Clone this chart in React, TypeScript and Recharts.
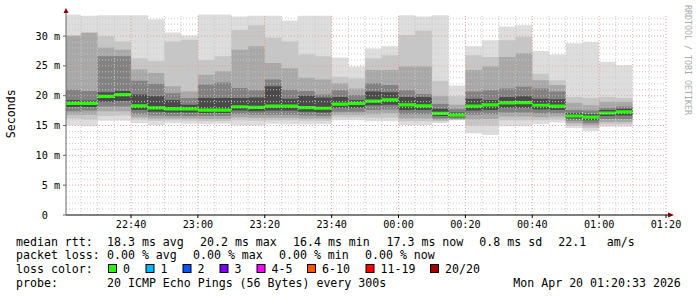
import React from 'react';
import { ComposedChart, Area, XAxis, YAxis, ReferenceLine } from 'recharts';

// 5-minute rrd steps (start time of each step)
const SLOTS = [
  '22:20', '22:25', '22:30', '22:35', '22:40', '22:45', '22:50', '22:55',
  '23:00', '23:05', '23:10', '23:15', '23:20', '23:25', '23:30', '23:35',
  '23:40', '23:45', '23:50', '23:55', '00:00', '00:05', '00:10', '00:15',
  '00:20', '00:25', '00:30', '00:35', '00:40', '00:45', '00:50', '00:55',
  '01:00', '01:05',
];

// median rtt (ms)
const MEDIAN = [18.7, 18.7, 19.9, 20.2, 18.3, 17.95, 17.8, 17.8, 17.6, 17.6, 18.15, 18.05, 18.25, 18.25, 18.0, 17.9, 18.6, 18.7, 19.1, 19.3, 18.45, 18.3, 17.05, 16.75, 18.25, 18.45, 18.8, 18.85, 18.4, 18.25, 16.6, 16.4, 17.1, 17.3];

// smoke: sorted ping bands, outermost first (ms)
const MAX = [33.6, 33.4, 33.5, 33.5, 33.5, 32.8, 30.6, 30.1, 33.6, 33.6, 33.3, 33.4, 33.4, 32.6, 33.4, 33.4, 26.4, 24.9, 27.9, 28.3, 33.5, 33.3, 33.5, 21.7, 28.3, 29.3, 31.6, 31.8, 27.5, 26.9, 28.8, 29.0, 25.7, 25.1];
const HI2 = [30.2, 30.7, 30.0, 29.1, 26.3, 25.8, 29.1, 29.4, 26.0, 26.6, 31.0, 31.8, 29.7, 29.1, 26.9, 26.6, 23.2, 22.9, 26.3, 26.8, 30.2, 30.9, 22.5, 19.9, 26.8, 26.5, 29.3, 29.9, 23.7, 22.6, 19.8, 19.6, 19.8, 19.6];
const HI3 = [30.0, 30.5, 28.1, 27.7, 24.4, 23.8, 21.6, 20.7, 23.5, 24.1, 27.7, 28.3, 25.5, 24.6, 23.0, 22.7, 22.1, 21.2, 24.3, 24.3, 24.9, 24.9, 19.9, 18.5, 24.3, 24.9, 26.5, 27.1, 22.6, 21.8, 18.8, 18.4, 19.0, 19.0];
const HI4 = [21.0, 20.8, 26.6, 26.6, 22.5, 22.0, 20.4, 19.6, 21.9, 22.2, 21.3, 20.9, 22.7, 21.0, 20.8, 20.2, 20.9, 20.1, 22.1, 21.8, 20.9, 20.3, 18.6, 17.8, 20.7, 20.9, 21.2, 21.5, 21.2, 20.7, 17.6, 17.5, 18.0, 18.2];
const HI5 = [19.3, 19.2, 20.6, 20.8, 20.2, 19.9, 19.3, 18.5, 19.6, 19.6, 19.6, 19.7, 21.6, 19.5, 20.0, 19.7, 19.8, 19.3, 20.7, 20.6, 19.8, 19.8, 17.8, 17.2, 19.5, 19.3, 19.8, 19.9, 19.5, 19.4, 17.1, 16.9, 17.6, 17.8];
const LO5 = [18.1, 18.1, 19.0, 19.1, 17.6, 17.3, 17.2, 17.2, 17.1, 17.1, 17.5, 17.4, 17.5, 17.5, 17.3, 17.2, 18.0, 18.0, 18.4, 18.5, 17.6, 17.6, 16.6, 16.4, 17.5, 17.6, 18.0, 18.0, 17.7, 17.6, 16.2, 15.9, 16.6, 16.7];
const LO4 = [17.4, 17.5, 18.2, 18.2, 16.9, 16.7, 16.6, 16.6, 16.6, 16.6, 16.9, 16.8, 16.8, 16.8, 16.7, 16.6, 17.3, 17.3, 17.6, 17.7, 16.9, 16.9, 16.2, 16.2, 16.8, 16.9, 17.2, 17.2, 17.0, 17.0, 15.8, 15.4, 16.1, 16.1];
const LO3 = [16.8, 16.8, 17.4, 17.4, 16.4, 16.2, 16.2, 16.2, 16.1, 16.1, 16.4, 16.3, 16.3, 16.3, 16.2, 16.2, 16.8, 16.8, 16.9, 17.0, 16.2, 16.2, 15.9, 16.0, 16.0, 16.1, 16.5, 16.5, 16.4, 16.5, 15.4, 15.0, 15.6, 15.6];
const LO2 = [16.2, 16.0, 16.6, 16.7, 16.0, 15.8, 15.9, 15.8, 15.7, 15.7, 15.9, 15.8, 15.9, 15.9, 15.8, 15.8, 16.4, 16.4, 16.3, 16.3, 15.7, 15.7, 15.7, 15.95, 15.0, 15.0, 15.9, 15.9, 15.9, 16.0, 15.0, 14.6, 15.2, 15.2];
const MIN = [15.0, 14.9, 15.8, 15.8, 15.4, 15.1, 15.4, 15.3, 15.25, 15.3, 15.0, 15.0, 15.3, 15.2, 15.2, 15.25, 15.9, 15.9, 15.7, 15.7, 15.1, 15.1, 15.4, 15.9, 13.7, 13.4, 14.9, 14.9, 15.25, 15.5, 14.6, 14.1, 14.8, 14.8];

const X_TICKS = ['22:40', '23:00', '23:20', '23:40', '00:00', '00:20', '00:40', '01:00', '01:20'];
const Y_TICKS = [0, 5, 10, 15, 20, 25, 30];

const LOSS_LEGEND = [
  { label: '0', color: '#26ff00', x: 108 },
  { label: '1', color: '#00b8ff', x: 145.5 },
  { label: '2', color: '#0059ff', x: 182.5 },
  { label: '3', color: '#7e00ff', x: 219.5 },
  { label: '4-5', color: '#ff00ff', x: 256.5 },
  { label: '6-10', color: '#ff5500', x: 307 },
  { label: '11-19', color: '#ff0000', x: 365.5 },
  { label: '20/20', color: '#a10000', x: 430 },
];

const SMOKE = ['#dddddd', '#c6c6c6', '#a8a8a8', '#828282', '#4a4a4a'];
const MONO = "'DejaVu Sans Mono', monospace";
const MED_HALF = 0.27;

const toMin = (s: string) => {
  const [h, m] = s.split(':').map(Number);
  return (h < 12 ? h + 24 : h) * 60 + m - 22 * 60;
};

const rows = SLOTS.map((s, i) => ({
  t: toMin(s),
  b1: [MIN[i], MAX[i]],
  b2: [LO2[i], HI2[i]],
  b3: [LO3[i], HI3[i]],
  b4: [LO4[i], HI4[i]],
  b5: [LO5[i], HI5[i]],
  med: [MEDIAN[i] - MED_HALF, MEDIAN[i] + MED_HALF],
}));
// closing point so the last step gets its width
const data = [...rows, { ...rows[rows.length - 1], t: rows[rows.length - 1].t + 5 }];

const xTickMins = X_TICKS.map(toMin);
const tickLabel = (v: number) => X_TICKS[xTickMins.indexOf(v)] ?? '';

const minorX: number[] = [];
for (let m = 25; m <= 200; m += 5) minorX.push(m);
const minorY: number[] = [];
for (let v = 1; v <= 33; v += 1) minorY.push(v);

const YTick = (props: any) => {
  const { x, y, payload } = props;
  const v = payload.value;
  return (
    <text x={v === 0 ? x - 12.2 : x} y={y} dy={3.6} textAnchor="end" fontFamily={MONO} fontSize={10.15} fill="#000">
      {v === 0 ? '0' : `${v} m`}
    </text>
  );
};

export default function App() {
  const t = { fontFamily: MONO, fontSize: 11.6, fill: '#000' };
  return (
    <div style={{ position: 'absolute', left: 0, top: 0, width: 697, height: 297, background: '#fff' }}>
      <ComposedChart width={697} height={297} data={data} margin={{ top: 14, right: 31, bottom: 0, left: 0 }}>
        <XAxis
          dataKey="t"
          type="number"
          domain={[20.55, 200]}
          allowDataOverflow
          ticks={xTickMins}
          tickFormatter={tickLabel}
          height={82}
          tickSize={3}
          tickMargin={3}
          axisLine={{ stroke: '#000' }}
          tickLine={{ stroke: '#000' }}
          tick={{ fontFamily: MONO, fontSize: 10.15, fill: '#000' }}
        />
        <YAxis
          type="number"
          domain={[0, 33.7]}
          allowDataOverflow
          ticks={Y_TICKS}
          width={66}
          tickSize={3}
          tickMargin={3}
          axisLine={{ stroke: '#666' }}
          tickLine={{ stroke: '#666' }}
          tick={<YTick />}
        />
        {(['b1', 'b2', 'b3', 'b4', 'b5'] as const).map((k, i) => (
          <Area
            key={k}
            type="stepAfter"
            dataKey={k}
            stroke="none"
            fill={SMOKE[i]}
            fillOpacity={1}
            dot={false}
            activeDot={false}
            isAnimationActive={false}
          />
        ))}
        <Area
          type="stepAfter"
          dataKey="med"
          stroke="none"
          fill="#26ff00"
          fillOpacity={1}
          dot={false}
          activeDot={false}
          isAnimationActive={false}
        />
        {minorY.map((v) => (
          <ReferenceLine
            key={'y' + v}
            y={v}
            stroke={v % 5 === 0 ? '#e0a0a0' : '#c8c8c8'}
            strokeDasharray="1 2"
          />
        ))}
        {minorX.map((v) => (
          <ReferenceLine
            key={'x' + v}
            x={v}
            stroke={xTickMins.includes(v) ? '#e0a0a0' : '#c8c8c8'}
            strokeDasharray="1 2"
          />
        ))}
      </ComposedChart>
      <svg width={697} height={297} style={{ position: 'absolute', left: 0, top: 0, pointerEvents: 'none' }}>
        <line x1={66} y1={14} x2={66} y2={11} stroke="#666" />
        <polygon points="63.5,13 68.5,13 66,8" fill="#800000" />
        <line x1={666} y1={215} x2={669} y2={215} stroke="#000" />
        <polygon points="668,212.5 668,217.5 674,215" fill="#800000" />
        <text x={15.2} y={113.7} transform="rotate(-90 15.2 113.7)" textAnchor="middle" fontFamily={MONO} fontSize={11.6} fill="#000">
          Seconds
        </text>
        <text x={685} y={5} transform="rotate(90 685 5)" fontFamily={MONO} fontSize={8.3} fill="#aaaaaa">
          RRDTOOL / TOBI OETIKER
        </text>

        <text x={16} y={245.5} {...t}>median rtt:</text>
        <text x={107} y={245.5} {...t}>18.3 ms avg</text>
        <text x={200} y={245.5} {...t}>20.2 ms max</text>
        <text x={293} y={245.5} {...t}>16.4 ms min</text>
        <text x={386.5} y={245.5} {...t}>17.3 ms now</text>
        <text x={479.3} y={245.5} {...t}>0.8 ms sd</text>
        <text x={558.3} y={245.5} {...t}>22.1</text>
        <text x={606.7} y={245.5} {...t}>am/s</text>

        <text x={16} y={259.4} {...t}>packet loss:</text>
        <text x={107} y={259.4} {...t}>0.00 % avg</text>
        <text x={193} y={259.4} {...t}>0.00 % max</text>
        <text x={279} y={259.4} {...t}>0.00 % min</text>
        <text x={365} y={259.4} {...t}>0.00 % now</text>

        <text x={16} y={273.3} {...t}>loss color:</text>
        {LOSS_LEGEND.map((l) => (
          <g key={l.label}>
            <rect x={l.x + 0.5} y={264.5} width={8} height={8} fill={l.color} stroke="#000" strokeWidth={1} />
            <text x={l.x + 15} y={273.3} {...t}>{l.label}</text>
          </g>
        ))}

        <text x={16} y={287.2} {...t}>probe:</text>
        <text x={107} y={287.2} {...t}>20 ICMP Echo Pings (56 Bytes) every 300s</text>
        <text x={513.3} y={287.2} {...t}>Mon Apr 20 01:20:33 2026</text>
      </svg>
    </div>
  );
}
